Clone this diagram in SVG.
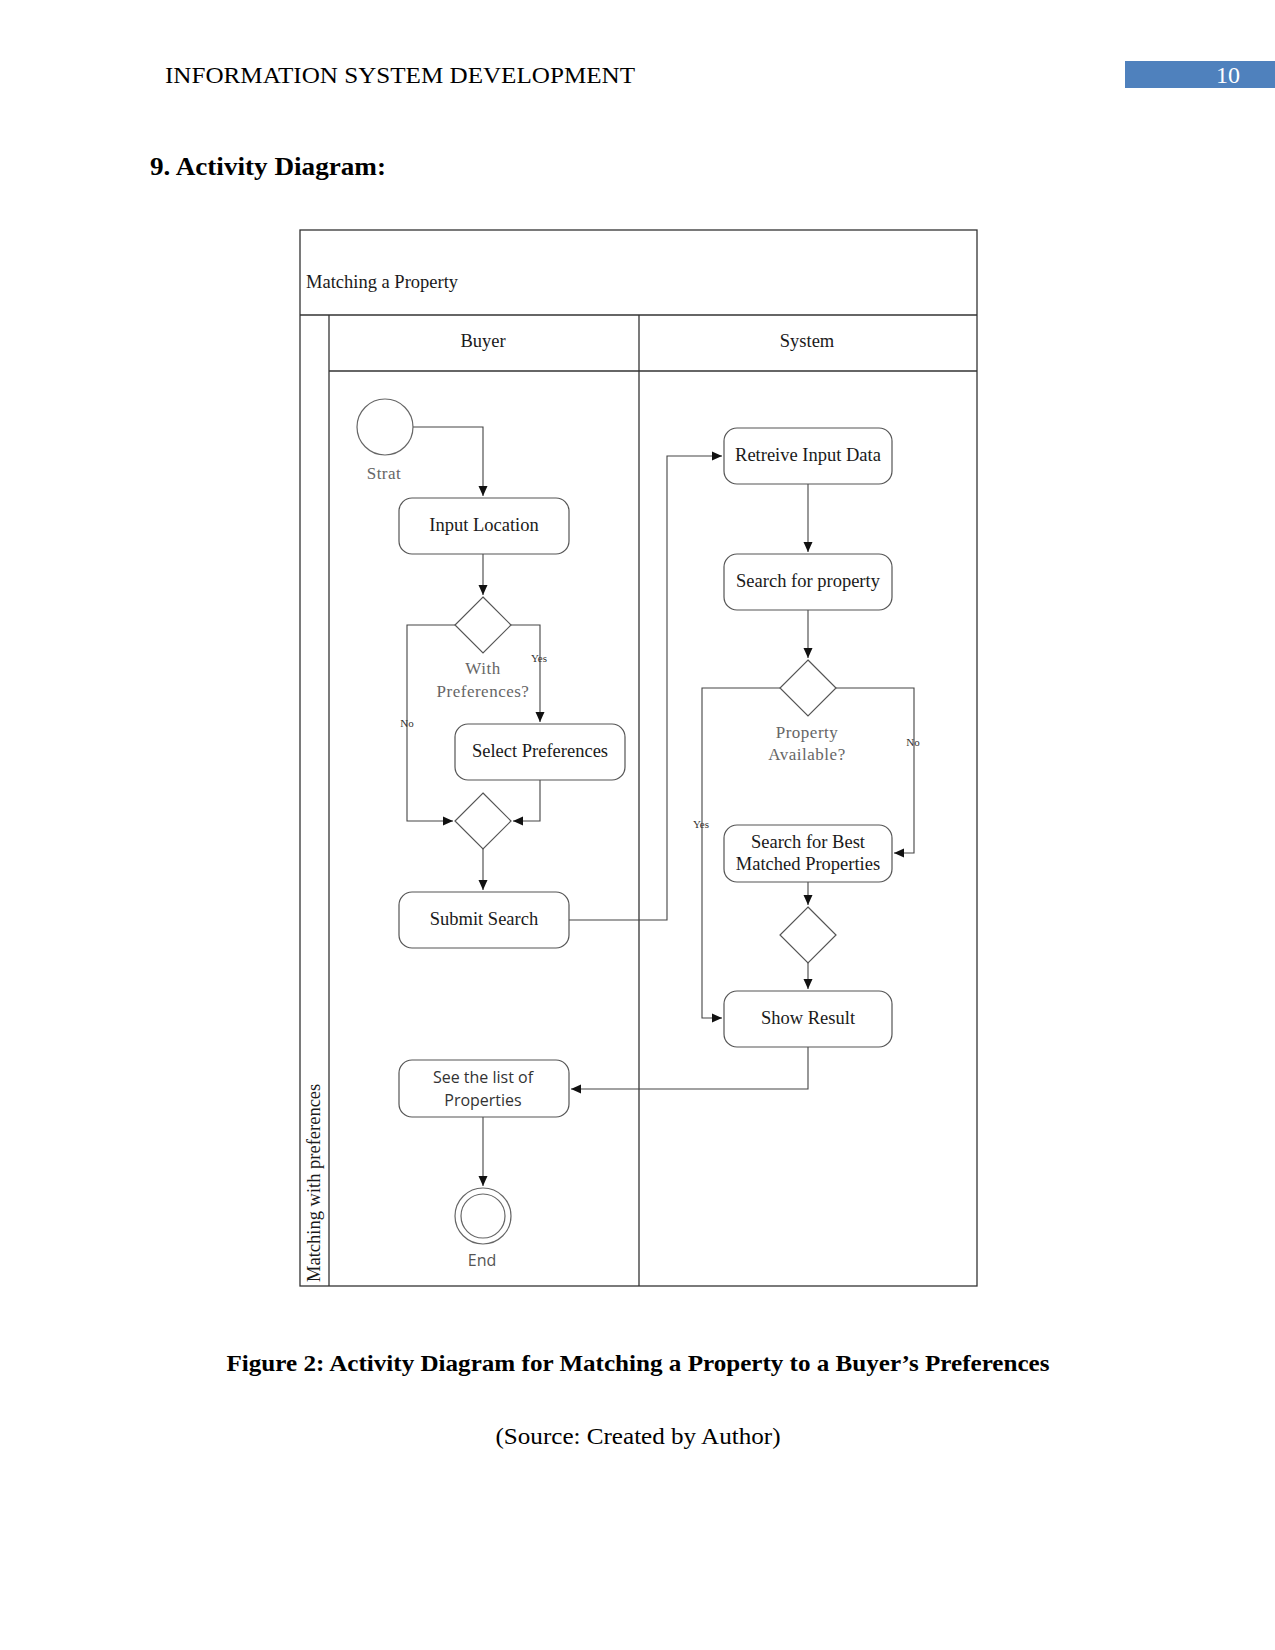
<svg xmlns="http://www.w3.org/2000/svg" width="1275" height="1650" viewBox="0 0 1275 1650">
<defs>
<marker id="ah" viewBox="0 0 10 10" refX="10" refY="5" markerWidth="10" markerHeight="10" markerUnits="userSpaceOnUse" orient="auto">
<path d="M0,0.5 L10,5 L0,9.5 Z" fill="#111"/>
</marker>
<style>
.page{font-family:"Liberation Serif","Times New Roman",serif;fill:#000}
.frame{fill:none;stroke:#333;stroke-width:1.3}
.act{fill:#fff;stroke:#555;stroke-width:1.2}
.dia{fill:#fff;stroke:#555;stroke-width:1.2}
.lbl{font-family:"Liberation Serif","Times New Roman",serif;font-size:18.5px;fill:#1a1a1a;text-anchor:middle}
.gl{font-family:"Liberation Serif","Times New Roman",serif;font-size:17px;fill:#666;text-anchor:middle;letter-spacing:0.5px}
.sans{font-family:"Open Sans","DejaVu Sans",sans-serif;font-size:16px;fill:#333;text-anchor:middle}
.tiny{font-family:"Liberation Serif","Times New Roman",serif;font-size:11px;fill:#333;text-anchor:middle}
.edge{fill:none;stroke:#444;stroke-width:1.1}
</style>
</defs>

<!-- page header -->
<text class="page" x="165" y="83" font-size="24" textLength="470" lengthAdjust="spacingAndGlyphs">INFORMATION SYSTEM DEVELOPMENT</text>
<rect x="1125" y="61" width="150" height="27" fill="#4f81bd"/>
<text x="1228" y="83" font-family="Liberation Serif, serif" font-size="24" fill="#fff" text-anchor="middle">10</text>
<text class="page" x="150" y="175" font-size="25" font-weight="bold" textLength="236" lengthAdjust="spacingAndGlyphs">9. Activity Diagram:</text>

<!-- swimlane frame -->
<g id="frame">
<rect class="frame" x="300" y="230" width="677" height="1056"/>
<line class="frame" x1="300" y1="315" x2="977" y2="315"/>
<line class="frame" x1="329" y1="315" x2="329" y2="1286"/>
<line class="frame" x1="329" y1="371" x2="977" y2="371"/>
<line class="frame" x1="639" y1="315" x2="639" y2="1286"/>
<text class="lbl" x="306" y="288" style="text-anchor:start">Matching a Property</text>
<text class="lbl" x="483" y="347">Buyer</text>
<text class="lbl" x="807" y="347">System</text>
<text class="lbl" transform="translate(320,1282) rotate(-90)" style="text-anchor:start">Matching with preferences</text>
</g>

<!-- connectors -->
<g id="connectors">
<path class="edge" d="M413,427 H483 V496" marker-end="url(#ah)"/>
<path class="edge" d="M483,554 V595" marker-end="url(#ah)"/>
<path class="edge" d="M511,625 H540 V722" marker-end="url(#ah)"/>
<text class="tiny" x="539" y="662">Yes</text>
<path class="edge" d="M455,625 H407 V821 H453" marker-end="url(#ah)"/>
<text class="tiny" x="407" y="727">No</text>
<path class="edge" d="M540,780 V821 H513" marker-end="url(#ah)"/>
<path class="edge" d="M483,849 V890" marker-end="url(#ah)"/>
<path class="edge" d="M569,920 H667 V456 H722" marker-end="url(#ah)"/>
<path class="edge" d="M808,484 V552" marker-end="url(#ah)"/>
<path class="edge" d="M808,610 V658" marker-end="url(#ah)"/>
<path class="edge" d="M780,688 H702 V1018 H722" marker-end="url(#ah)"/>
<text class="tiny" x="701" y="828">Yes</text>
<path class="edge" d="M836,688 H914 V853 H894" marker-end="url(#ah)"/>
<text class="tiny" x="913" y="746">No</text>
<path class="edge" d="M808,882 V905" marker-end="url(#ah)"/>
<path class="edge" d="M808,963 V989" marker-end="url(#ah)"/>
<path class="edge" d="M808,1047 V1089 H571" marker-end="url(#ah)"/>
<path class="edge" d="M483,1117 V1186" marker-end="url(#ah)"/>
</g>

<!-- nodes -->
<g id="start">
<circle cx="385" cy="427" r="28" fill="#fff" stroke="#666" stroke-width="1.2"/>
<text class="gl" x="384" y="479">Strat</text>
</g>
<g id="input-location">
<rect class="act" x="399" y="498" width="170" height="56" rx="13"/>
<text class="lbl" x="484" y="531">Input Location</text>
</g>
<g id="decision-preferences">
<polygon class="dia" points="483,597 511,625 483,653 455,625"/>
<text class="gl" x="483" y="674">With</text>
<text class="gl" x="483" y="697">Preferences?</text>
</g>
<g id="select-preferences">
<rect class="act" x="455" y="724" width="170" height="56" rx="13"/>
<text class="lbl" x="540" y="757">Select Preferences</text>
</g>
<g id="merge">
<polygon class="dia" points="483,793 511,821 483,849 455,821"/>
</g>
<g id="submit-search">
<rect class="act" x="399" y="892" width="170" height="56" rx="13"/>
<text class="lbl" x="484" y="925">Submit Search</text>
</g>
<g id="retreive-input">
<rect class="act" x="724" y="428" width="168" height="56" rx="13"/>
<text class="lbl" x="808" y="461">Retreive Input Data</text>
</g>
<g id="search-property">
<rect class="act" x="724" y="554" width="168" height="56" rx="13"/>
<text class="lbl" x="808" y="587">Search for property</text>
</g>
<g id="decision-available">
<polygon class="dia" points="808,660 836,688 808,716 780,688"/>
<text class="gl" x="807" y="738">Property</text>
<text class="gl" x="807" y="760">Available?</text>
</g>
<g id="search-best">
<rect class="act" x="724" y="825" width="168" height="57" rx="13"/>
<text class="lbl" x="808" y="848">Search for Best</text>
<text class="lbl" x="808" y="870">Matched Properties</text>
</g>
<g id="merge2">
<polygon class="dia" points="808,907 836,935 808,963 780,935"/>
</g>
<g id="show-result">
<rect class="act" x="724" y="991" width="168" height="56" rx="13"/>
<text class="lbl" x="808" y="1024">Show Result</text>
</g>
<g id="see-list">
<rect class="act" x="399" y="1060" width="170" height="57" rx="13"/>
<text class="sans" x="483" y="1083">See the list of</text>
<text class="sans" x="483" y="1106">Properties</text>
</g>
<g id="end">
<circle cx="483" cy="1216" r="28" fill="#fff" stroke="#666" stroke-width="1.2"/>
<circle cx="483" cy="1216" r="22" fill="#fff" stroke="#666" stroke-width="1.2"/>
<text class="sans" x="482" y="1266" style="fill:#555">End</text>
</g>

<!-- caption -->
<text class="page" x="638" y="1371" font-size="24" font-weight="bold" text-anchor="middle" textLength="823" lengthAdjust="spacingAndGlyphs">Figure 2: Activity Diagram for Matching a Property to a Buyer’s Preferences</text>
<text class="page" x="638" y="1444" font-size="24" text-anchor="middle" textLength="285" lengthAdjust="spacingAndGlyphs">(Source: Created by Author)</text>
</svg>
